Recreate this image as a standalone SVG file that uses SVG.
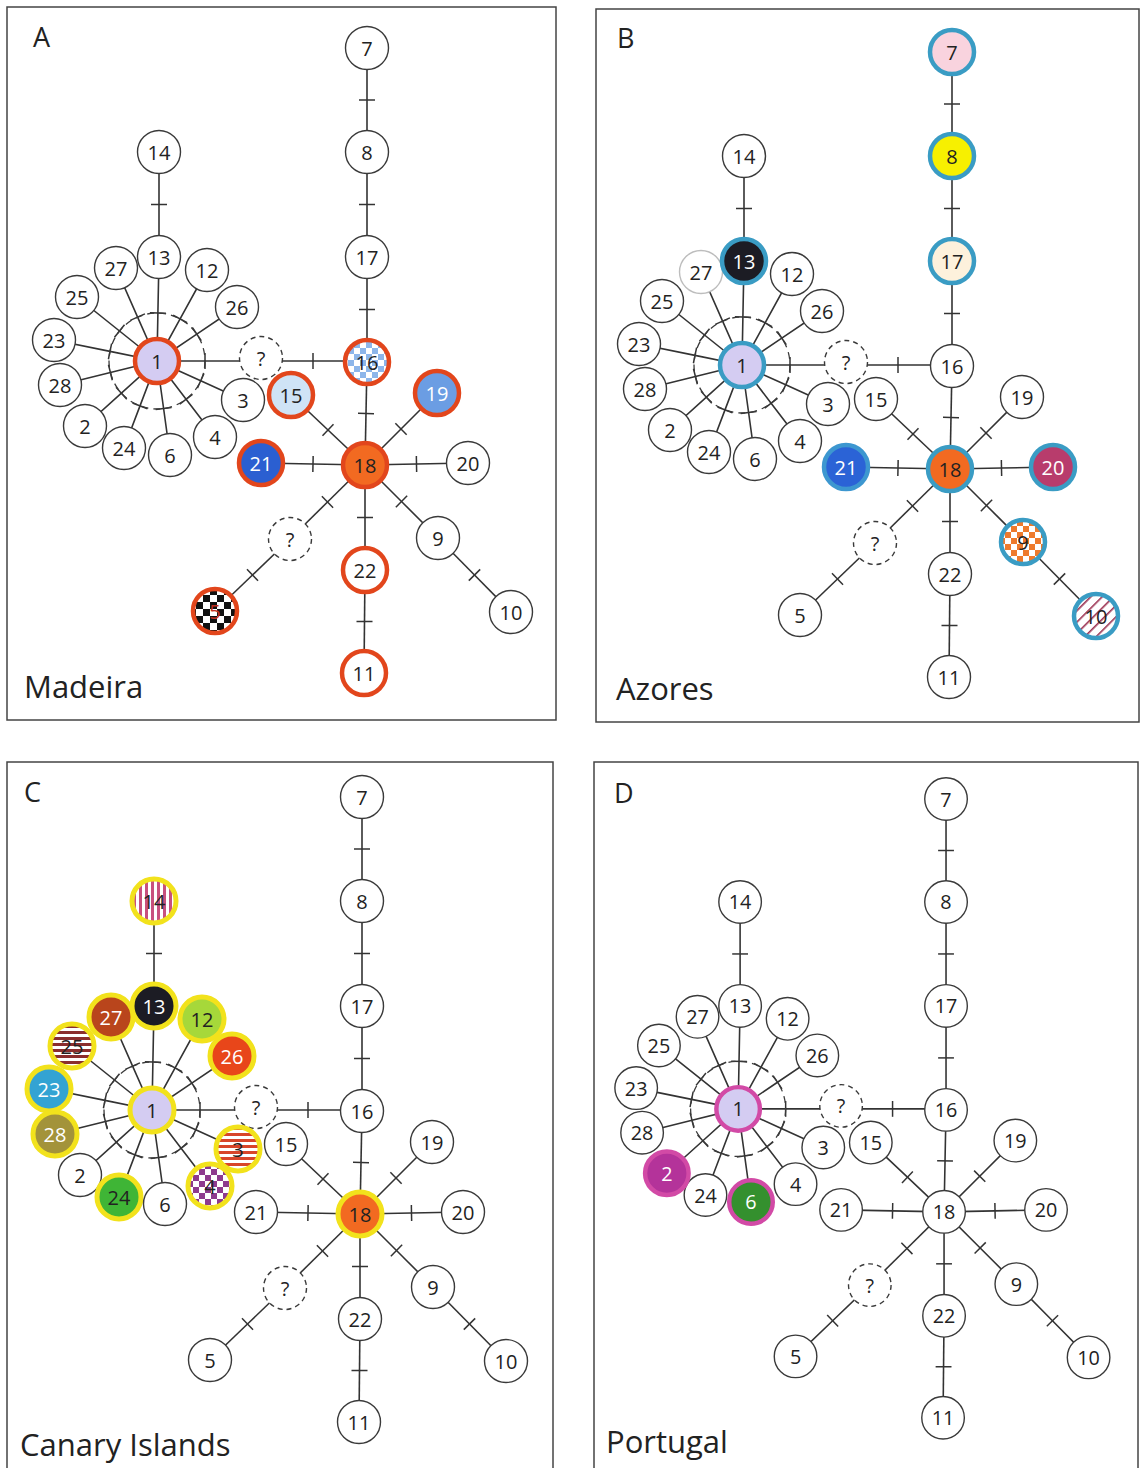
<svg xmlns="http://www.w3.org/2000/svg" xmlns:xlink="http://www.w3.org/1999/xlink" width="1142" height="1468" viewBox="0 0 1142 1468">
<style>
.frame{fill:#fff;stroke:#444;stroke-width:1.5}
.n{fill:#fff;stroke:#3a3a3a;stroke-width:1.4}
.q{fill:#fff;stroke:#3a3a3a;stroke-width:1.4;stroke-dasharray:5 4}
.c{stroke-width:4.5}
.ra{stroke:#e2461c}
.tb{stroke:#3a9cc4}
.yc{stroke:#f2e21c;stroke-width:5}
.md{stroke:#d24aa6}
.t{font-family:"Open Sans","DejaVu Sans",sans-serif;font-size:20px;font-weight:500;text-anchor:middle;dominant-baseline:central;fill:#222}
.w{fill:#fff}
.lt{font-family:"Open Sans","DejaVu Sans",sans-serif;font-size:27px;fill:#222}
.rg{font-family:"Open Sans","DejaVu Sans",sans-serif;font-size:31px;fill:#222}
.dash{fill:none;stroke:#3a3a3a;stroke-width:1.3;stroke-dasharray:7 5}
</style>
<defs>
<marker id="tick" markerUnits="userSpaceOnUse" markerWidth="4" markerHeight="18" refX="2" refY="9" orient="auto" viewBox="0 0 4 18" overflow="visible"><path d="M2 1V17" stroke="#333" stroke-width="1.5"/></marker>
<pattern id="chkBlue" patternUnits="userSpaceOnUse" width="12" height="12"><rect width="12" height="12" fill="#fff"/><rect width="6" height="6" fill="#8db6ea"/><rect x="6" y="6" width="6" height="6" fill="#8db6ea"/></pattern>
<pattern id="chkBW" patternUnits="userSpaceOnUse" width="14" height="14"><rect width="14" height="14" fill="#fff"/><rect width="7" height="7" fill="#111"/><rect x="7" y="7" width="7" height="7" fill="#111"/></pattern>
<pattern id="chkOr" patternUnits="userSpaceOnUse" width="12" height="12"><rect width="12" height="12" fill="#fff"/><rect width="6" height="6" fill="#ee7a2c"/><rect x="6" y="6" width="6" height="6" fill="#ee7a2c"/></pattern>
<pattern id="chkPu" patternUnits="userSpaceOnUse" width="12" height="12"><rect width="12" height="12" fill="#fff"/><rect width="6" height="6" fill="#8e3a8e"/><rect x="6" y="6" width="6" height="6" fill="#8e3a8e"/></pattern>
<pattern id="diag" patternUnits="userSpaceOnUse" width="8" height="8" patternTransform="rotate(-45)"><rect width="8" height="8" fill="#fff"/><rect width="8" height="1.6" fill="#9a3050"/></pattern>
<pattern id="hRed" patternUnits="userSpaceOnUse" width="6" height="6"><rect width="6" height="6" fill="#fff"/><rect width="6" height="3" fill="#d8452a"/></pattern>
<pattern id="hDark" patternUnits="userSpaceOnUse" width="6" height="6"><rect width="6" height="6" fill="#fff"/><rect width="6" height="3" fill="#8b2e2e"/></pattern>
<pattern id="vPink" patternUnits="userSpaceOnUse" width="6" height="6"><rect width="6" height="6" fill="#fff"/><rect width="3" height="6" fill="#c8507e"/></pattern>
<g id="edges" fill="none" stroke="#333" stroke-width="1.6" marker-mid="url(#tick)">
<path d="M367 48L367 100L367 152"/>
<path d="M367 152L367 204.5L367 257"/>
<path d="M367 257L367 309.5L367 362"/>
<path d="M367 362L366 413.5L365 465"/>
<path d="M365 465L365 517.5L365 570"/>
<path d="M365 570L364.5 621.5L364 673"/>
<path d="M159 152L159 204.5L159 257"/>
<path d="M157 361L157.9 313L159 257"/>
<path d="M157 361L180.1 318.9L207 270"/>
<path d="M157 361L137.6 317.1L116 268"/>
<path d="M157 361L119.5 331L77 297"/>
<path d="M157 361L196.8 334.1L237 307"/>
<path d="M157 361L110 351.4L54 340"/>
<path d="M157 361L110.4 372.5L60 385"/>
<path d="M157 361L121.4 393.2L85 426"/>
<path d="M157 361L140 405.9L124 448"/>
<path d="M157 361L163.6 408.5L170 455"/>
<path d="M157 361L186.1 399.2L215 437"/>
<path d="M157 361L200.7 380.8L243 400"/>
<path d="M157 361L205 361L261 361"/>
<path d="M261 361L313 361L367 361"/>
<path d="M365 465L328 430L291 395"/>
<path d="M365 465L401 429L437 393"/>
<path d="M365 465L313 464L261 463"/>
<path d="M365 465L416.5 464L468 463"/>
<path d="M365 465L327.5 502L290 539"/>
<path d="M290 539L252.5 575L215 611"/>
<path d="M365 465L401.5 501.5L438 538"/>
<path d="M438 538L474.5 575L511 612"/>
<circle cx="157" cy="361" r="48" class="dash" marker-mid="none"/>
</g>
</defs>

<rect class="frame" x="7" y="7" width="549" height="713"/>
<rect class="frame" x="596" y="9" width="543" height="713"/>
<rect class="frame" x="7" y="762" width="546" height="720"/>
<rect class="frame" x="594" y="762" width="544" height="720"/>

<text class="lt" x="33" y="47">A</text>
<text class="lt" x="617" y="48">B</text>
<text class="lt" x="24" y="802">C</text>
<text class="lt" x="614" y="803">D</text>
<text class="rg" x="24" y="698">Madeira</text>
<text class="rg" x="616" y="700">Azores</text>
<text class="rg" x="20" y="1456">Canary Islands</text>
<text class="rg" x="606" y="1453">Portugal</text>

<!-- Panel A -->
<g id="panelA">
<g id="a-connectors"><use xlink:href="#edges"/></g>
<g id="a-7"><circle class="n" cx="367" cy="48" r="21.5"/><text class="t" x="367" y="48">7</text></g>
<g id="a-8"><circle class="n" cx="367" cy="152" r="21.5"/><text class="t" x="367" y="152">8</text></g>
<g id="a-17"><circle class="n" cx="367" cy="257" r="21.5"/><text class="t" x="367" y="257">17</text></g>
<g id="a-14"><circle class="n" cx="159" cy="152" r="21.5"/><text class="t" x="159" y="152">14</text></g>
<g id="a-13"><circle class="n" cx="159" cy="257" r="21.5"/><text class="t" x="159" y="257">13</text></g>
<g id="a-12"><circle class="n" cx="207" cy="270" r="21.5"/><text class="t" x="207" y="270">12</text></g>
<g id="a-27"><circle class="n" cx="116" cy="268" r="21.5"/><text class="t" x="116" y="268">27</text></g>
<g id="a-25"><circle class="n" cx="77" cy="297" r="21.5"/><text class="t" x="77" y="297">25</text></g>
<g id="a-26"><circle class="n" cx="237" cy="307" r="21.5"/><text class="t" x="237" y="307">26</text></g>
<g id="a-23"><circle class="n" cx="54" cy="340" r="21.5"/><text class="t" x="54" y="340">23</text></g>
<g id="a-28"><circle class="n" cx="60" cy="385" r="21.5"/><text class="t" x="60" y="385">28</text></g>
<g id="a-2"><circle class="n" cx="85" cy="426" r="21.5"/><text class="t" x="85" y="426">2</text></g>
<g id="a-24"><circle class="n" cx="124" cy="448" r="21.5"/><text class="t" x="124" y="448">24</text></g>
<g id="a-6"><circle class="n" cx="170" cy="455" r="21.5"/><text class="t" x="170" y="455">6</text></g>
<g id="a-4"><circle class="n" cx="215" cy="437" r="21.5"/><text class="t" x="215" y="437">4</text></g>
<g id="a-q1"><circle class="q" cx="261" cy="358" r="21.5"/><text class="t" x="261" y="358">?</text></g>
<g id="a-3"><circle class="n" cx="243" cy="400" r="21.5"/><text class="t" x="243" y="400">3</text></g>
<g id="a-1"><circle class="c ra" cx="157" cy="361" r="22" fill="#d4ccf2"/><text class="t" x="157" y="361">1</text></g>
<g id="a-16"><circle class="c ra" cx="367" cy="362" r="22" fill="url(#chkBlue)"/><text class="t" x="367" y="362">16</text></g>
<g id="a-15"><circle class="c ra" cx="291" cy="395" r="22" fill="#cfe3f6"/><text class="t" x="291" y="395">15</text></g>
<g id="a-19"><circle class="c ra" cx="437" cy="393" r="22" fill="#6b9de3"/><text class="t w" x="437" y="393">19</text></g>
<g id="a-21"><circle class="c ra" cx="261" cy="463" r="22" fill="#2b5fd1"/><text class="t w" x="261" y="463">21</text></g>
<g id="a-18"><circle class="c ra" cx="365" cy="465" r="22" fill="#f26a21"/><text class="t" x="365" y="465">18</text></g>
<g id="a-20"><circle class="n" cx="468" cy="463" r="21.5"/><text class="t" x="468" y="463">20</text></g>
<g id="a-q2"><circle class="q" cx="290" cy="539" r="21.5"/><text class="t" x="290" y="539">?</text></g>
<g id="a-9"><circle class="n" cx="438" cy="538" r="21.5"/><text class="t" x="438" y="538">9</text></g>
<g id="a-10"><circle class="n" cx="511" cy="612" r="21.5"/><text class="t" x="511" y="612">10</text></g>
<g id="a-22"><circle class="c ra" cx="365" cy="570" r="22" fill="#fff"/><text class="t" x="365" y="570">22</text></g>
<g id="a-11"><circle class="c ra" cx="364" cy="673" r="22" fill="#fff"/><text class="t" x="364" y="673">11</text></g>
<g id="a-5"><circle class="c ra" cx="215" cy="611" r="22" fill="url(#chkBW)"/><text class="t" x="215" y="611" style="fill:#c03020">5</text></g>
</g>

<!-- Panel B -->
<g id="panelB" transform="translate(585,4)">
<g id="b-connectors"><use xlink:href="#edges"/></g>
<g id="b-7"><circle class="c tb" cx="367" cy="48" r="22" fill="#f9d3de"/><text class="t" x="367" y="48">7</text></g>
<g id="b-8"><circle class="c tb" cx="367" cy="152" r="22" fill="#f7f000"/><text class="t" x="367" y="152">8</text></g>
<g id="b-17"><circle class="c tb" cx="367" cy="257" r="22" fill="#fdf1dc"/><text class="t" x="367" y="257">17</text></g>
<g id="b-14"><circle class="n" cx="159" cy="152" r="21.5"/><text class="t" x="159" y="152">14</text></g>
<g id="b-12"><circle class="n" cx="207" cy="270" r="21.5"/><text class="t" x="207" y="270">12</text></g>
<g id="b-27"><circle class="n" cx="116" cy="268" r="21.5" style="stroke:#bdbdbd"/><text class="t" x="116" y="268">27</text></g>
<g id="b-13"><circle class="c tb" cx="159" cy="257" r="22" fill="#1c1c24"/><text class="t w" x="159" y="257">13</text></g>
<g id="b-25"><circle class="n" cx="77" cy="297" r="21.5"/><text class="t" x="77" y="297">25</text></g>
<g id="b-26"><circle class="n" cx="237" cy="307" r="21.5"/><text class="t" x="237" y="307">26</text></g>
<g id="b-23"><circle class="n" cx="54" cy="340" r="21.5"/><text class="t" x="54" y="340">23</text></g>
<g id="b-28"><circle class="n" cx="60" cy="385" r="21.5"/><text class="t" x="60" y="385">28</text></g>
<g id="b-2"><circle class="n" cx="85" cy="426" r="21.5"/><text class="t" x="85" y="426">2</text></g>
<g id="b-24"><circle class="n" cx="124" cy="448" r="21.5"/><text class="t" x="124" y="448">24</text></g>
<g id="b-6"><circle class="n" cx="170" cy="455" r="21.5"/><text class="t" x="170" y="455">6</text></g>
<g id="b-4"><circle class="n" cx="215" cy="437" r="21.5"/><text class="t" x="215" y="437">4</text></g>
<g id="b-q1"><circle class="q" cx="261" cy="358" r="21.5"/><text class="t" x="261" y="358">?</text></g>
<g id="b-3"><circle class="n" cx="243" cy="400" r="21.5"/><text class="t" x="243" y="400">3</text></g>
<g id="b-1"><circle class="c tb" cx="157" cy="361" r="22" fill="#d4ccf2"/><text class="t" x="157" y="361">1</text></g>
<g id="b-16"><circle class="n" cx="367" cy="362" r="21.5"/><text class="t" x="367" y="362">16</text></g>
<g id="b-15"><circle class="n" cx="291" cy="395" r="21.5"/><text class="t" x="291" y="395">15</text></g>
<g id="b-19"><circle class="n" cx="437" cy="393" r="21.5"/><text class="t" x="437" y="393">19</text></g>
<g id="b-21"><circle class="c" cx="261" cy="463" r="22" fill="#2b63d6" style="stroke:#3d97d0"/><text class="t w" x="261" y="463">21</text></g>
<g id="b-18"><circle class="c tb" cx="365" cy="465" r="22" fill="#f26a21"/><text class="t" x="365" y="465">18</text></g>
<g id="b-20"><circle class="c tb" cx="468" cy="463" r="22" fill="#b83c6c"/><text class="t w" x="468" y="463">20</text></g>
<g id="b-q2"><circle class="q" cx="290" cy="539" r="21.5"/><text class="t" x="290" y="539">?</text></g>
<g id="b-9"><circle class="c tb" cx="438" cy="538" r="22" fill="url(#chkOr)"/><text class="t" x="438" y="538">9</text></g>
<g id="b-10"><circle class="c tb" cx="511" cy="612" r="22" fill="url(#diag)"/><text class="t" x="511" y="612">10</text></g>
<g id="b-22"><circle class="n" cx="365" cy="570" r="21.5"/><text class="t" x="365" y="570">22</text></g>
<g id="b-11"><circle class="n" cx="364" cy="673" r="21.5"/><text class="t" x="364" y="673">11</text></g>
<g id="b-5"><circle class="n" cx="215" cy="611" r="21.5"/><text class="t" x="215" y="611">5</text></g>
</g>

<!-- Panel C -->
<g id="panelC" transform="translate(-5,749)">
<g id="c-connectors"><use xlink:href="#edges"/></g>
<g id="c-7"><circle class="n" cx="367" cy="48" r="21.5"/><text class="t" x="367" y="48">7</text></g>
<g id="c-8"><circle class="n" cx="367" cy="152" r="21.5"/><text class="t" x="367" y="152">8</text></g>
<g id="c-17"><circle class="n" cx="367" cy="257" r="21.5"/><text class="t" x="367" y="257">17</text></g>
<g id="c-14"><circle class="c yc" cx="159" cy="152" r="22" fill="url(#vPink)"/><text class="t" x="159" y="152">14</text></g>
<g id="c-12"><circle class="c yc" cx="207" cy="270" r="22" fill="#a6d83a"/><text class="t" x="207" y="270">12</text></g>
<g id="c-27"><circle class="c yc" cx="116" cy="268" r="22" fill="#b9451c"/><text class="t w" x="116" y="268">27</text></g>
<g id="c-13"><circle class="c yc" cx="159" cy="257" r="22" fill="#1c1c24"/><text class="t w" x="159" y="257">13</text></g>
<g id="c-25"><circle class="c yc" cx="77" cy="297" r="22" fill="url(#hDark)"/><text class="t" x="77" y="297">25</text></g>
<g id="c-26"><circle class="c yc" cx="237" cy="307" r="22" fill="#e8461a"/><text class="t w" x="237" y="307">26</text></g>
<g id="c-23"><circle class="c yc" cx="54" cy="340" r="22" fill="#33a3d3"/><text class="t w" x="54" y="340">23</text></g>
<g id="c-28"><circle class="c yc" cx="60" cy="385" r="22" fill="#a3933a"/><text class="t w" x="60" y="385">28</text></g>
<g id="c-2"><circle class="n" cx="85" cy="426" r="21.5"/><text class="t" x="85" y="426">2</text></g>
<g id="c-24"><circle class="c yc" cx="124" cy="448" r="22" fill="#3fb536"/><text class="t" x="124" y="448">24</text></g>
<g id="c-6"><circle class="n" cx="170" cy="455" r="21.5"/><text class="t" x="170" y="455">6</text></g>
<g id="c-4"><circle class="c yc" cx="215" cy="437" r="22" fill="url(#chkPu)"/><text class="t" x="215" y="437">4</text></g>
<g id="c-q1"><circle class="q" cx="261" cy="358" r="21.5"/><text class="t" x="261" y="358">?</text></g>
<g id="c-3"><circle class="c yc" cx="243" cy="400" r="22" fill="url(#hRed)"/><text class="t" x="243" y="400">3</text></g>
<g id="c-1"><circle class="c yc" cx="157" cy="361" r="22" fill="#d4ccf2"/><text class="t" x="157" y="361">1</text></g>
<g id="c-16"><circle class="n" cx="367" cy="362" r="21.5"/><text class="t" x="367" y="362">16</text></g>
<g id="c-15"><circle class="n" cx="291" cy="395" r="21.5"/><text class="t" x="291" y="395">15</text></g>
<g id="c-19"><circle class="n" cx="437" cy="393" r="21.5"/><text class="t" x="437" y="393">19</text></g>
<g id="c-21"><circle class="n" cx="261" cy="463" r="21.5"/><text class="t" x="261" y="463">21</text></g>
<g id="c-18"><circle class="c yc" cx="365" cy="465" r="22" fill="#f26a21"/><text class="t" x="365" y="465">18</text></g>
<g id="c-20"><circle class="n" cx="468" cy="463" r="21.5"/><text class="t" x="468" y="463">20</text></g>
<g id="c-q2"><circle class="q" cx="290" cy="539" r="21.5"/><text class="t" x="290" y="539">?</text></g>
<g id="c-9"><circle class="n" cx="438" cy="538" r="21.5"/><text class="t" x="438" y="538">9</text></g>
<g id="c-10"><circle class="n" cx="511" cy="612" r="21.5"/><text class="t" x="511" y="612">10</text></g>
<g id="c-22"><circle class="n" cx="365" cy="570" r="21.5"/><text class="t" x="365" y="570">22</text></g>
<g id="c-11"><circle class="n" cx="364" cy="673" r="21.5"/><text class="t" x="364" y="673">11</text></g>
<g id="c-5"><circle class="n" cx="215" cy="611" r="21.5"/><text class="t" x="215" y="611">5</text></g>
</g>

<!-- Panel D -->
<g id="panelD" transform="translate(582.7,751.5) scale(0.99)">
<g id="d-connectors"><use xlink:href="#edges"/></g>
<g id="d-7"><circle class="n" cx="367" cy="48" r="21.5"/><text class="t" x="367" y="48">7</text></g>
<g id="d-8"><circle class="n" cx="367" cy="152" r="21.5"/><text class="t" x="367" y="152">8</text></g>
<g id="d-17"><circle class="n" cx="367" cy="257" r="21.5"/><text class="t" x="367" y="257">17</text></g>
<g id="d-14"><circle class="n" cx="159" cy="152" r="21.5"/><text class="t" x="159" y="152">14</text></g>
<g id="d-13"><circle class="n" cx="159" cy="257" r="21.5"/><text class="t" x="159" y="257">13</text></g>
<g id="d-12"><circle class="n" cx="207" cy="270" r="21.5"/><text class="t" x="207" y="270">12</text></g>
<g id="d-27"><circle class="n" cx="116" cy="268" r="21.5"/><text class="t" x="116" y="268">27</text></g>
<g id="d-25"><circle class="n" cx="77" cy="297" r="21.5"/><text class="t" x="77" y="297">25</text></g>
<g id="d-26"><circle class="n" cx="237" cy="307" r="21.5"/><text class="t" x="237" y="307">26</text></g>
<g id="d-23"><circle class="n" cx="54" cy="340" r="21.5"/><text class="t" x="54" y="340">23</text></g>
<g id="d-28"><circle class="n" cx="60" cy="385" r="21.5"/><text class="t" x="60" y="385">28</text></g>
<g id="d-24"><circle class="n" cx="124" cy="448" r="21.5"/><text class="t" x="124" y="448">24</text></g>
<g id="d-2"><circle class="c md" cx="85" cy="426" r="22" fill="#b4339a"/><text class="t w" x="85" y="426">2</text></g>
<g id="d-4"><circle class="n" cx="215" cy="437" r="21.5"/><text class="t" x="215" y="437">4</text></g>
<g id="d-6"><circle class="c md" cx="170" cy="455" r="22" fill="#34902e"/><text class="t w" x="170" y="455">6</text></g>
<g id="d-q1"><circle class="q" cx="261" cy="358" r="21.5"/><text class="t" x="261" y="358">?</text></g>
<g id="d-3"><circle class="n" cx="243" cy="400" r="21.5"/><text class="t" x="243" y="400">3</text></g>
<g id="d-1"><circle class="c md" cx="157" cy="361" r="22" fill="#d4ccf2"/><text class="t" x="157" y="361">1</text></g>
<g id="d-16"><circle class="n" cx="367" cy="362" r="21.5"/><text class="t" x="367" y="362">16</text></g>
<g id="d-15"><circle class="n" cx="291" cy="395" r="21.5"/><text class="t" x="291" y="395">15</text></g>
<g id="d-19"><circle class="n" cx="437" cy="393" r="21.5"/><text class="t" x="437" y="393">19</text></g>
<g id="d-21"><circle class="n" cx="261" cy="463" r="21.5"/><text class="t" x="261" y="463">21</text></g>
<g id="d-18"><circle class="n" cx="365" cy="465" r="21.5"/><text class="t" x="365" y="465">18</text></g>
<g id="d-20"><circle class="n" cx="468" cy="463" r="21.5"/><text class="t" x="468" y="463">20</text></g>
<g id="d-q2"><circle class="q" cx="290" cy="539" r="21.5"/><text class="t" x="290" y="539">?</text></g>
<g id="d-9"><circle class="n" cx="438" cy="538" r="21.5"/><text class="t" x="438" y="538">9</text></g>
<g id="d-10"><circle class="n" cx="511" cy="612" r="21.5"/><text class="t" x="511" y="612">10</text></g>
<g id="d-22"><circle class="n" cx="365" cy="570" r="21.5"/><text class="t" x="365" y="570">22</text></g>
<g id="d-11"><circle class="n" cx="364" cy="673" r="21.5"/><text class="t" x="364" y="673">11</text></g>
<g id="d-5"><circle class="n" cx="215" cy="611" r="21.5"/><text class="t" x="215" y="611">5</text></g>
</g>
</svg>
